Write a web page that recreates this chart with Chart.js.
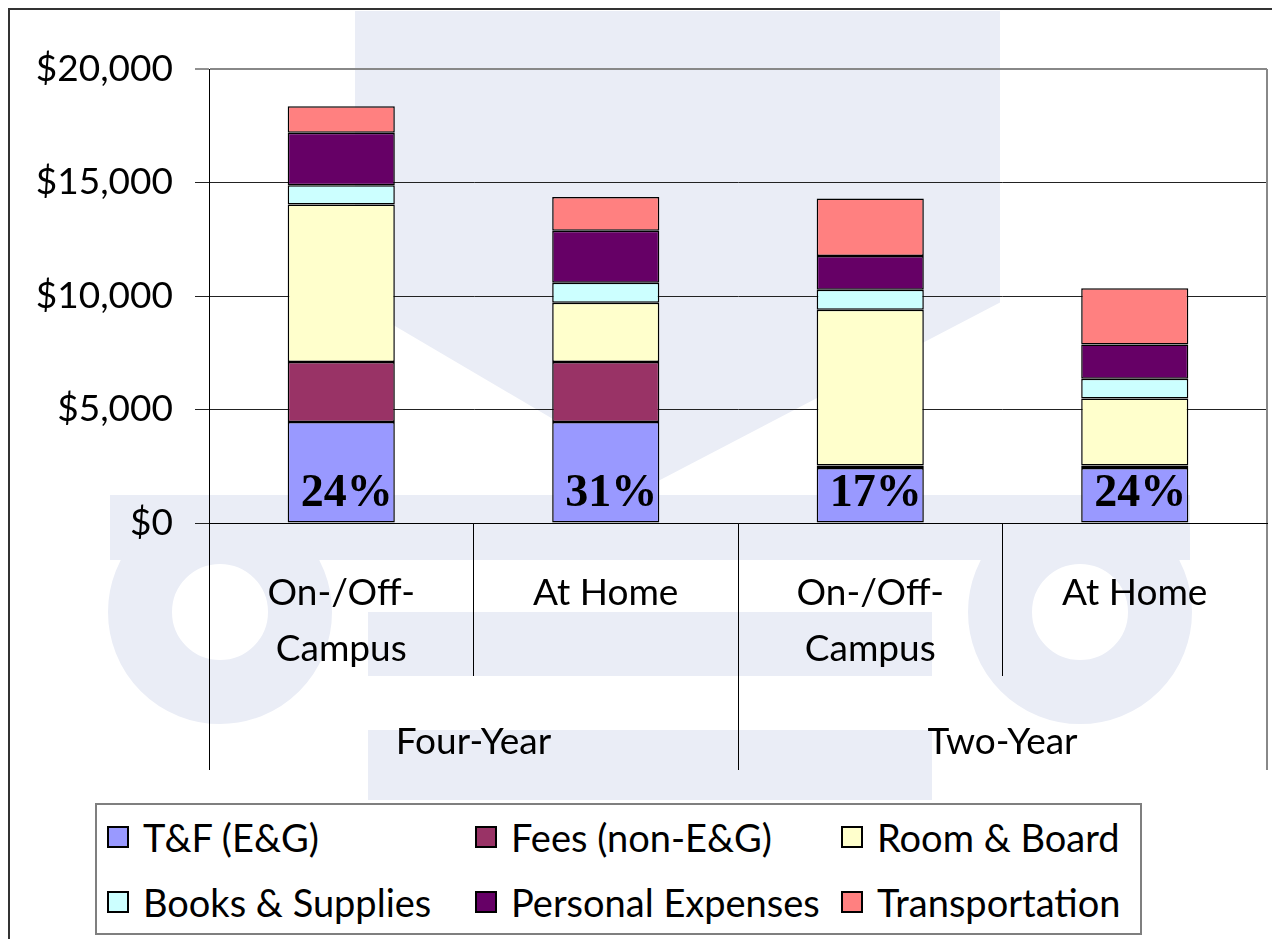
<!DOCTYPE html>
<html>
<head>
<meta charset="utf-8">
<script src="https://cdn.jsdelivr.net/npm/chart.js@4.4.0/dist/chart.umd.min.js"></script>
<style>
  html, body { margin: 0; padding: 0; background: #fff; }
  body { width: 1272px; height: 939px; position: relative; overflow: hidden; font-family: Lato, "Open Sans", sans-serif; }
  #frame { position: absolute; left: 8px; top: 8px; width: 1400px; height: 1100px; border: 2px solid #333; }
  /* faint watermark behind the chart */
  .wm { position: absolute; background: #eaedf6; }
  .ring { position: absolute; border-radius: 50%; border: 64px solid #eaedf6; box-sizing: border-box; }
  #chartBox { position: absolute; left: 0; top: 0; width: 1272px; height: 800px; }
  #legend { position: absolute; left: 95px; top: 803px; width: 1047px; height: 132px; box-sizing: border-box;
            border: 2px solid #7f7f7f; background: #fff; }
  #legend .item { position: absolute; display: flex; align-items: center; font-size: 38px; color: #000; white-space: nowrap; }
  #legend .swatch { width: 22px; height: 22px; box-sizing: border-box; border: 2px solid #000; margin-right: 14px; }
</style>
</head>
<body>
<div class="wm" style="left:355px;top:11px;width:645px;height:470px;clip-path:polygon(0 0,100% 0,100% 62%,47% 100%,0 62%);"></div>
<div class="wm" style="left:110px;top:495px;width:1080px;height:65px;"></div>
<div class="wm" style="left:368px;top:612px;width:564px;height:64px;"></div>
<div class="wm" style="left:368px;top:730px;width:564px;height:70px;"></div>
<div class="ring" style="left:108px;top:500px;width:224px;height:224px;"></div>
<div class="ring" style="left:968px;top:500px;width:224px;height:224px;"></div>
<div id="frame"></div>
<div id="chartBox"><canvas id="costChart"></canvas></div>
<div id="legend"></div>
<script>
// --- Data ---
const categories = [['On-/Off-', 'Campus'], 'At Home', ['On-/Off-', 'Campus'], 'At Home'];
const groups = ['Four-Year', 'Two-Year'];

const tuitionFees = [4450, 4450, 2420, 2420];
const otherFees = [2640, 2640, 110, 110];
const roomBoard = [6940, 2610, 6860, 2950];
const booksSupplies = [850, 880, 880, 870];
const personalExp = [2310, 2290, 1490, 1510];
const transportation = [1170, 1490, 2530, 2480];

const tfShare = ['24%', '31%', '17%', '24%'];

const seriesNames = ['T&F (E&G)', 'Fees (non-E&G)', 'Room & Board', 'Books & Supplies', 'Personal Expenses', 'Transportation'];
const seriesColors = ['#9999ff', '#993366', '#ffffcc', '#ccffff', '#660066', '#ff8080'];
const seriesValues = [tuitionFees, otherFees, roomBoard, booksSupplies, personalExp, transportation];

const tickFont = { family: 'Lato', size: 37, lineHeight: 1.51 };

// last divider line (no tick context) is the grey plot border
const dividerColor = c => c.type === 'scale' ? '#888' : '#000';
const dividerWidth = c => c.type === 'scale' ? 2 : 1;

// --- Plugins ---
const plotBorder = {
    id: 'plotBorder',
    afterDraw(chart) {
        const { ctx, chartArea } = chart;
        ctx.save();
        ctx.strokeStyle = '#888';
        ctx.lineWidth = 2;
        ctx.beginPath();
        ctx.moveTo(chartArea.right, chartArea.top);
        ctx.lineTo(chartArea.right, chartArea.bottom);
        ctx.stroke();
        ctx.restore();
    }
};

const shareLabels = {
    id: 'shareLabels',
    afterDatasetsDraw(chart) {
        const { ctx } = chart;
        const meta = chart.getDatasetMeta(0);
        ctx.save();
        ctx.font = 'bold 46px "Liberation Serif"';
        ctx.fillStyle = '#000';
        ctx.textAlign = 'right';
        ctx.textBaseline = 'alphabetic';
        meta.data.forEach((bar, i) => {
            ctx.fillText(tfShare[i], bar.x + bar.width / 2 - 2, bar.base - 17);
        });
        ctx.restore();
    }
};

// --- Chart ---
const ctx = document.getElementById('costChart').getContext('2d');
const costChart = new Chart(ctx, {
    type: 'bar',
    data: {
        labels: categories,
        datasets: seriesNames.map((name, i) => ({
            label: name,
            data: seriesValues[i],
            backgroundColor: seriesColors[i],
            borderColor: '#000',
            borderWidth: 1.5,
            borderSkipped: false,
            categoryPercentage: 1,
            barPercentage: 0.405
        }))
    },
    options: {
        responsive: true,
        maintainAspectRatio: false,
        animation: false,
        layout: { padding: { top: 69, right: 5, bottom: 30, left: 0 } },
        plugins: {
            legend: { display: false },
            tooltip: { enabled: false }
        },
        scales: {
            x: {
                stacked: true,
                weight: 0,
                grid: { drawOnChartArea: false, offset: true, tickLength: 153, color: dividerColor, lineWidth: dividerWidth },
                border: { color: '#000', width: 1 },
                ticks: { color: '#000', font: tickFont, padding: -111, maxRotation: 0, autoSkip: false },
                afterFit: s => { s.height = 153; }
            },
            group: {
                type: 'category',
                labels: groups,
                position: 'bottom',
                offset: true,
                weight: 1,
                grid: { drawOnChartArea: false, offset: true, tickLength: 94, color: dividerColor, lineWidth: dividerWidth },
                border: { display: false },
                ticks: { color: '#000', font: tickFont, padding: -56, maxRotation: 0, autoSkip: false },
                afterFit: s => { s.height = 94; }
            },
            y: {
                stacked: true,
                min: 0,
                max: 20000,
                ticks: {
                    stepSize: 5000,
                    color: '#000',
                    font: tickFont,
                    padding: 22,
                    callback: v => '$' + v.toLocaleString('en-US')
                },
                grid: {
                    tickLength: 14,
                    color: c => c.tick.value === 20000 ? '#888' : '#222',
                    lineWidth: c => c.tick.value === 20000 ? 2 : 1,
                    tickColor: '#222',
                    tickWidth: 1
                },
                border: { color: '#000', width: 1 },
                afterFit: s => { s.width = 209; }
            }
        }
    },
    plugins: [plotBorder, shareLabels]
});

// --- HTML legend (two rows, three aligned columns) ---
const legendEl = document.getElementById('legend');
const colLeft = [10, 378, 744];
const rowTop = [9, 74];
costChart.data.datasets.forEach((ds, i) => {
    const item = document.createElement('div');
    item.className = 'item';
    item.style.left = colLeft[i % 3] + 'px';
    item.style.top = rowTop[Math.floor(i / 3)] + 'px';
    const sw = document.createElement('span');
    sw.className = 'swatch';
    sw.style.background = ds.backgroundColor;
    const txt = document.createElement('span');
    txt.textContent = ds.label;
    item.appendChild(sw);
    item.appendChild(txt);
    legendEl.appendChild(item);
});
</script>
</body>
</html>
